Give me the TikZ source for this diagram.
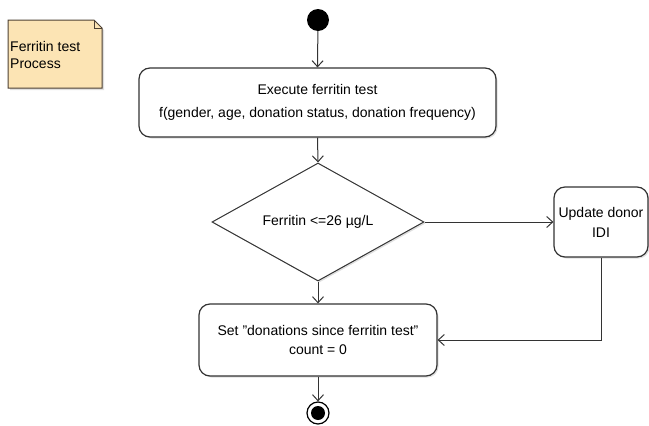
\documentclass[tikz,border=0pt]{standalone}
\usepackage{fontspec}
\setmainfont{Liberation Sans}
\usetikzlibrary{arrows.meta,shapes.geometric,shadows}
\definecolor{linegray}{HTML}{333333}
\definecolor{notefill}{HTML}{FCE4B4}
\definecolor{noteedge}{HTML}{4D4033}
\tikzset{
  flow/.style={draw=linegray, line width=1pt, -{Straight Barb[length=6pt,width=11pt,line width=1pt]}},
  actbox/.style={draw=linegray, line width=1.2pt, rounded corners=11pt, fill=white,
    align=center, inner sep=0pt, font=\fontsize{14}{23}\selectfont,
    drop shadow={shadow xshift=1.5pt, shadow yshift=-1.5pt, opacity=0.25}},
  decision/.style={diamond, draw=linegray, line width=1pt, fill=white, aspect=1.8,
    inner sep=0pt, minimum width=212pt, minimum height=118pt, font=\fontsize{14}{16}\selectfont,
    drop shadow={shadow xshift=1.5pt, shadow yshift=-1.5pt, opacity=0.25}},
  startdot/.style={circle, fill=black, minimum size=22pt, inner sep=0pt},
  enddot/.style={circle, draw=black, line width=1.2pt, fill=white, minimum size=22pt, inner sep=0pt},
}
\begin{document}
\begin{tikzpicture}[x=1pt, y=-1pt]
  \useasboundingbox (0,0) rectangle (649,426);

  % note in the upper left corner
  \fill[gray, opacity=0.25] (10,22) -- (96,22) -- (104,30) -- (104,90) -- (10,90) -- cycle;
  \draw[noteedge, line width=1pt, fill=notefill] (8,20) -- (94,20) -- (102,28) -- (102,88) -- (8,88) -- cycle;
  \draw[noteedge, line width=0.8pt] (94,20) -- (94,28) -- (102,28);
  \node[anchor=west, align=left, inner sep=0pt, font=\fontsize{14}{17}\selectfont] (notetext) at (10,55) {Ferritin test\\Process};

  % activity flow
  \node[startdot] (start) at (318,20) {};
  \node[actbox, minimum width=357pt, minimum height=69pt] (exec) at (317.5,102.5)
    {Execute ferritin test\\f(gender, age, donation status, donation frequency)};
  \node[decision] (check) at (318,222) {Ferritin <=26 µg/L};
  \node[actbox, minimum width=94pt, minimum height=70pt, font=\fontsize{14}{20}\selectfont] (update) at (601,222)
    {Update donor\\IDI};
  \node[actbox, minimum width=238pt, minimum height=72pt, font=\fontsize{14}{19}\selectfont] (reset) at (318,340)
    {Set "donations since ferritin test"\\count = 0};
  \node[enddot] (stop) at (318,413) {};
  \fill[black] (stop.center) circle (7pt);

  \draw[flow] (start) -- (exec.north);
  \draw[flow] (exec.south) -- (check.north);
  \draw[flow] (check.east) -- (update.west);
  \draw[flow] (check.south) -- (reset.north);
  \draw[flow] (update.south) |- (reset.east);
  \draw[flow] (reset.south) -- (stop.north);
\end{tikzpicture}
\end{document}
